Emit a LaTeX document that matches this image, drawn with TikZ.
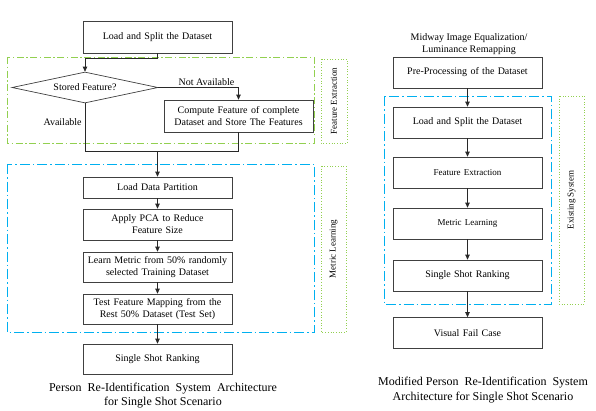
\documentclass[tikz,border=0pt]{standalone}
\usepackage{fontspec}
\setmainfont{Liberation Serif}
\usetikzlibrary{shapes.geometric,arrows.meta}

\begin{document}
\begin{tikzpicture}[
  x=1pt, y=-1pt,
  every node/.style={font=\fontsize{10}{12}\selectfont},
  box/.style={draw=boxgray, line width=0.7pt, minimum width=149pt,
    minimum height=31pt, text width=140pt, align=center, inner sep=1pt},
  decision/.style={diamond, draw=boxgray, line width=0.7pt, aspect=4.7,
    minimum width=146pt, minimum height=31pt, inner sep=0pt},
  arr/.style={-{Triangle[length=5pt,width=4.5pt]}, line width=0.7pt, draw=linegray},
  link/.style={line width=0.7pt, draw=linegray},
  greenframe/.style={draw=frameGreen, line width=0.9pt,
    dash pattern=on 7pt off 2.5pt on 1.5pt off 2.5pt},
  blueframe/.style={draw=frameBlue, line width=0.9pt,
    dash pattern=on 10pt off 3pt on 1.5pt off 3pt},
  tagframe/.style={draw=frameGreen, line width=0.7pt, dotted},
  tag/.style={rotate=90, font=\fontsize{9}{11}\selectfont},
  caption/.style={align=center, font=\fontsize{12}{14.5}\selectfont},
]

\definecolor{boxgray}{RGB}{64,64,64}
\definecolor{linegray}{RGB}{40,40,40}
\definecolor{frameGreen}{RGB}{146,208,80}
\definecolor{frameBlue}{RGB}{0,176,240}

\useasboundingbox (0,0) rectangle (596,410);

% ============================================================
% LEFT: ORIGINAL ARCHITECTURE
% ============================================================
% frames (drawn first, boxes on top)
\draw[greenframe] (7,57) rectangle (314,143);
\draw[tagframe] (321,59) rectangle (347,143);
\node[tag] (tagFE) at (334,101) {Feature Extraction};

\draw[blueframe] (7,164) rectangle (314,332);
\draw[tagframe] (321,166) rectangle (346,332);
\node[tag] (tagML) at (333.5,249) {Metric Learning};

% boxes
\node[box, minimum height=32pt] (load) at (157.5,37) {Load and Split the Dataset};
\node[decision] (stored) at (85,87.5) {Stored Feature?};
\node[box, minimum height=32pt] (compute) at (238.5,116)
  {Compute Feature of complete\\Dataset and Store The Features};
\node[box, minimum height=21pt] (partition) at (157.5,187.5) {Load Data Partition};
\node[box] (pca) at (157.5,224.5) {Apply PCA to Reduce\\Feature Size};
\node[box, minimum height=30pt] (metric) at (157.5,267)
  {Learn Metric from 50\% randomly\\selected Training Dataset};
\node[box, minimum height=30pt] (test) at (157.5,309)
  {Test Feature Mapping from the\\Rest 50\% Dataset (Test Set)};
\node[box, minimum height=30pt] (ranking) at (157.5,359) {Single Shot Ranking};

% connectors
\coordinate (merge) at (157.5,151);
\draw[arr] (load.south) -- ++(0,5) -| (stored.north);
\draw[arr] (stored.east) -| node[pos=0.3, above, inner sep=2pt] (lblNA) {Not Available}
  (compute.north);
\draw[link] (stored.south)
  -- node[pos=0.4, left, inner sep=3pt] (lblA) {Available} (stored.south |- merge)
  -| (compute.south);
\draw[arr] (merge) -- (partition.north);
\foreach \a/\b in {partition/pca, pca/metric, metric/test, test/ranking}
  \draw[arr] (\a.south) -- (\b.north);

\node[caption] (capL) at (163,395.5)
  {Person\ \ Re-Identification\ \ System\ \ Architecture\\for Single Shot Scenario};

% ============================================================
% RIGHT: MODIFIED ARCHITECTURE
% ============================================================
\draw[blueframe] (384,96) rectangle (551,304);
\draw[tagframe] (559,96) rectangle (584,304);
\node[tag] (tagES) at (571.5,200) {Existing System};

\node[align=center] (midway) at (469,44.5)
  {Midway Image Equalization/\\Luminance Remapping};

\foreach \n/\y/\txt in {
  pre/72.5/Pre-Processing of the Dataset,
  split/122.5/Load and Split the Dataset,
  feat/172.5/{\fontsize{9}{11}\selectfont Feature Extraction},
  metricR/223.5/{\fontsize{9}{11}\selectfont Metric Learning},
  rankR/275.5/Single Shot Ranking,
  fail/333/Visual Fail Case}{
  \node[box] (\n) at (467.5,\y) {\txt};
}
\foreach \a/\b in {pre/split, split/feat, feat/metricR, metricR/rankR, rankR/fail}
  \draw[arr] (\a.south) -- (\b.north);

\node[caption] (capR) at (483,390)
  {Modified Person\ \ Re-Identification\ \ System\\Architecture for Single Shot Scenario};

\end{tikzpicture}
\end{document}
